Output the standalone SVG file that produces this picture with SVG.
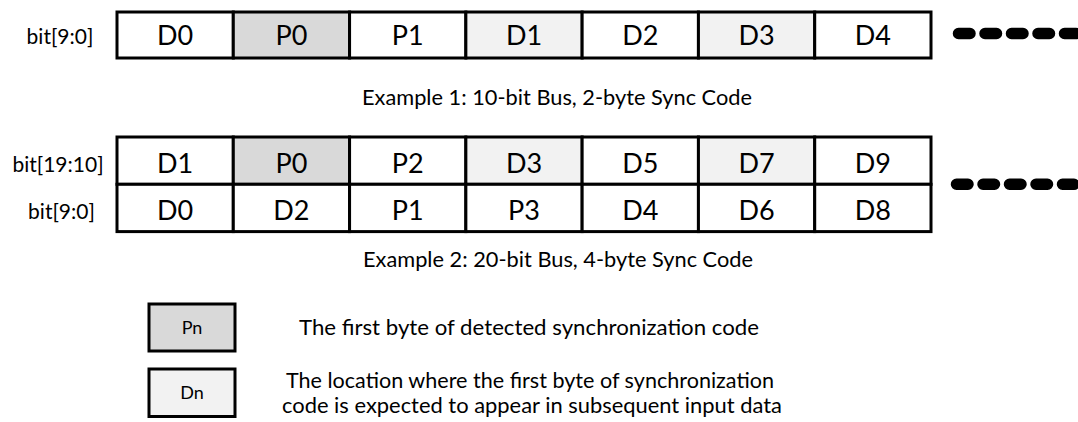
<svg xmlns="http://www.w3.org/2000/svg" width="1078" height="422" viewBox="0 0 1078 422">
  <style>
    .cell { stroke: #000; stroke-width: 3; fill: #fff; }
    .sync { fill: #d9d9d9; }
    .expect { fill: #f2f2f2; }
    .val { font-family: Lato, "Liberation Sans", sans-serif; font-size: 27px; fill: #000; text-anchor: middle; }
    .lbl { font-family: Lato, "Liberation Sans", sans-serif; font-size: 21px; fill: #000; text-anchor: middle; }
    .cap { font-family: Lato, "Liberation Sans", sans-serif; font-size: 21.5px; fill: #000; }
    .key { font-family: Lato, "Liberation Sans", sans-serif; font-size: 18px; fill: #000; text-anchor: middle; }
    .more { stroke: #000; stroke-width: 11.5; stroke-linecap: round; stroke-dasharray: 11.5 15; fill: none; }
  </style>

  <!-- Example 1: 10-bit bus -->
  <g id="bus10">
    <text class="lbl" x="60" y="44">bit[9:0]</text>
    <g id="bus10-d0"><rect class="cell" x="117" y="12" width="116.29" height="46"/><text class="val" x="175.1" y="45">D0</text></g>
    <g id="bus10-p0"><rect class="cell sync" x="233.29" y="12" width="116.29" height="46"/><text class="val" x="291.4" y="45">P0</text></g>
    <g id="bus10-p1"><rect class="cell" x="349.57" y="12" width="116.29" height="46"/><text class="val" x="407.7" y="45">P1</text></g>
    <g id="bus10-d1"><rect class="cell expect" x="465.86" y="12" width="116.29" height="46"/><text class="val" x="524" y="45">D1</text></g>
    <g id="bus10-d2"><rect class="cell" x="582.14" y="12" width="116.29" height="46"/><text class="val" x="640.3" y="45">D2</text></g>
    <g id="bus10-d3"><rect class="cell expect" x="698.43" y="12" width="116.29" height="46"/><text class="val" x="756.6" y="45">D3</text></g>
    <g id="bus10-d4"><rect class="cell" x="814.71" y="12" width="116.29" height="46"/><text class="val" x="872.9" y="45">D4</text></g>
  </g>
  <text id="caption1" class="cap" x="362" y="104.5" textLength="390" lengthAdjust="spacingAndGlyphs">Example 1: 10-bit Bus, 2-byte Sync Code</text>

  <!-- Example 2: 20-bit bus, upper and lower halves -->
  <g id="bus20-hi">
    <text class="lbl" x="58" y="171.5">bit[19:10]</text>
    <g id="bus20-d1"><rect class="cell" x="117" y="137" width="116.29" height="47.3"/><text class="val" x="175.1" y="173">D1</text></g>
    <g id="bus20-p0"><rect class="cell sync" x="233.29" y="137" width="116.29" height="47.3"/><text class="val" x="291.4" y="173">P0</text></g>
    <g id="bus20-p2"><rect class="cell" x="349.57" y="137" width="116.29" height="47.3"/><text class="val" x="407.7" y="173">P2</text></g>
    <g id="bus20-d3"><rect class="cell expect" x="465.86" y="137" width="116.29" height="47.3"/><text class="val" x="524" y="173">D3</text></g>
    <g id="bus20-d5"><rect class="cell" x="582.14" y="137" width="116.29" height="47.3"/><text class="val" x="640.3" y="173">D5</text></g>
    <g id="bus20-d7"><rect class="cell expect" x="698.43" y="137" width="116.29" height="47.3"/><text class="val" x="756.6" y="173">D7</text></g>
    <g id="bus20-d9"><rect class="cell" x="814.71" y="137" width="116.29" height="47.3"/><text class="val" x="872.9" y="173">D9</text></g>
  </g>
  <g id="bus20-lo">
    <text class="lbl" x="61.5" y="218.5">bit[9:0]</text>
    <g id="bus20-d0"><rect class="cell" x="117" y="184.3" width="116.29" height="47.3"/><text class="val" x="175.1" y="220.3">D0</text></g>
    <g id="bus20-d2"><rect class="cell" x="233.29" y="184.3" width="116.29" height="47.3"/><text class="val" x="291.4" y="220.3">D2</text></g>
    <g id="bus20-p1"><rect class="cell" x="349.57" y="184.3" width="116.29" height="47.3"/><text class="val" x="407.7" y="220.3">P1</text></g>
    <g id="bus20-p3"><rect class="cell" x="465.86" y="184.3" width="116.29" height="47.3"/><text class="val" x="524" y="220.3">P3</text></g>
    <g id="bus20-d4"><rect class="cell" x="582.14" y="184.3" width="116.29" height="47.3"/><text class="val" x="640.3" y="220.3">D4</text></g>
    <g id="bus20-d6"><rect class="cell" x="698.43" y="184.3" width="116.29" height="47.3"/><text class="val" x="756.6" y="220.3">D6</text></g>
    <g id="bus20-d8"><rect class="cell" x="814.71" y="184.3" width="116.29" height="47.3"/><text class="val" x="872.9" y="220.3">D8</text></g>
  </g>
  <text id="caption2" class="cap" x="363" y="266.7" textLength="390" lengthAdjust="spacingAndGlyphs">Example 2: 20-bit Bus, 4-byte Sync Code</text>

  <!-- the stream continues to the right -->
  <g id="continuation">
    <line class="more" x1="958.5" y1="33.5" x2="1100" y2="33.5"/>
    <line class="more" x1="956.5" y1="184.3" x2="1100" y2="184.3"/>
  </g>

  <!-- key -->
  <g id="key-pn">
    <rect class="cell sync" x="149" y="304" width="86" height="47"/>
    <text class="key" x="192" y="334">Pn</text>
    <text class="cap" x="299" y="335" textLength="460" lengthAdjust="spacingAndGlyphs">The first byte of detected synchronization code</text>
  </g>
  <g id="key-dn">
    <rect class="cell expect" x="149" y="369" width="86" height="47.5"/>
    <text class="key" x="192" y="399">Dn</text>
    <text class="cap" x="286" y="388" textLength="488" lengthAdjust="spacingAndGlyphs">The location where the first byte of synchronization</text>
    <text class="cap" x="282" y="413" textLength="500" lengthAdjust="spacingAndGlyphs">code is expected to appear in subsequent input data</text>
  </g>
</svg>
